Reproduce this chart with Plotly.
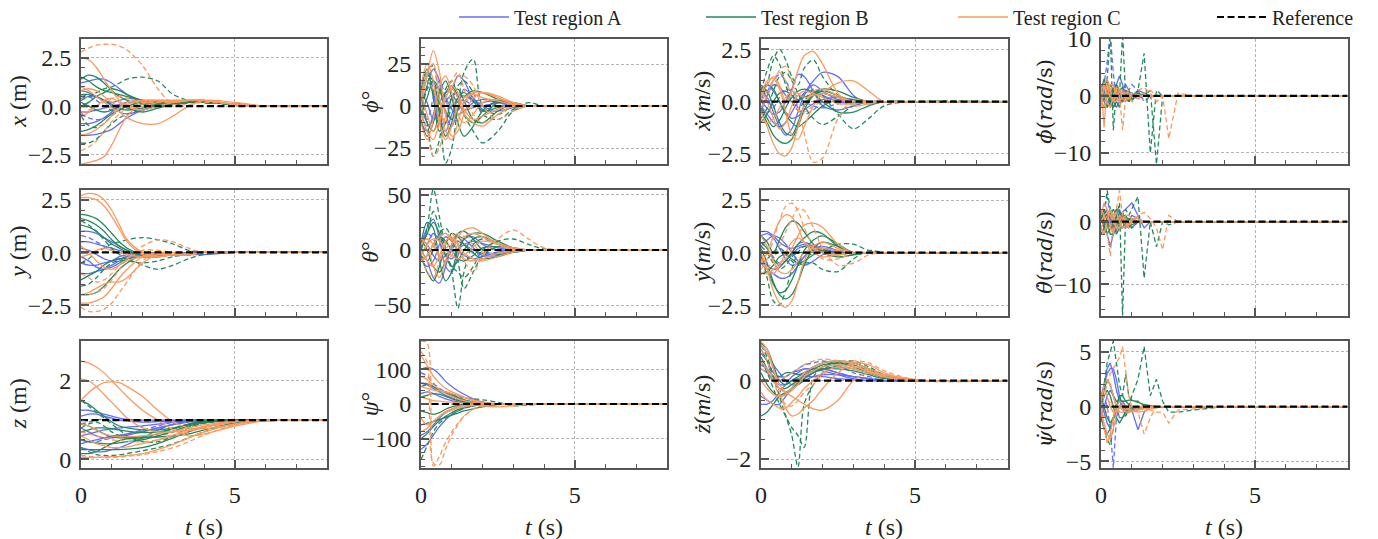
import plotly.graph_objects as go
from plotly.subplots import make_subplots

# ---------------- time grids (s) ----------------
T_POS = [0, 0.25, 0.5, 0.75, 1.0, 1.25, 1.5, 2.0, 2.5, 3.0, 3.5, 4.0, 5.0, 6.0, 8.0]
T_MID = [0, 0.2, 0.4, 0.6, 0.8, 1.0, 1.2, 1.4, 1.7, 2.0, 2.5, 3.0, 3.5, 4.0, 5.0, 8.0]
T_RATE = [0, 0.1, 0.2, 0.3, 0.4, 0.5, 0.6, 0.7, 0.8, 0.9, 1.0, 1.2, 1.4, 1.6, 1.8, 2.0, 2.2, 2.5, 3.0, 4.0, 8.0]
REF_T = [0.0, 8.0]

REGIONS = ["Test region A", "Test region B", "Test region C"]
REF_NAME = "Reference"
REF_LEVELS = [0, 0, 0, 0, 0, 0, 0, 0, 1.0, 0, 0, 0]

# ---------------- x (m) ----------------
x_A_solid = [
    [1.2, 1.3, 1.4, 1.4, 1.2, 0.9, 0.6, 0.2, 0.0, 0.1, 0.2, 0.2, 0.1, 0.0, 0.0],
    [-1.5, -1.5, -1.45, -1.35, -1.2, -0.9, -0.6, -0.2, 0.0, 0.1, 0.2, 0.2, 0.1, 0.0, 0.0],
    [0.8, 0.7, 0.5, 0.3, 0.2, 0.3, 0.4, 0.3, 0.1, 0.1, 0.2, 0.2, 0.1, 0.0, 0.0],
    [-0.3, -0.3, -0.2, -0.1, 0.0, 0.1, 0.2, 0.3, 0.2, 0.2, 0.2, 0.2, 0.1, 0.0, 0.0],
    [0.4, 0.5, 0.5, 0.3, 0.0, -0.3, -0.4, -0.2, 0.0, 0.1, 0.2, 0.2, 0.1, 0.0, 0.0],
    [-0.9, -0.9, -0.8, -0.6, -0.3, 0.0, 0.2, 0.3, 0.2, 0.1, 0.2, 0.2, 0.1, 0.0, 0.0],
]
x_A_dashed = [
    [-0.4, -0.6, -0.7, -0.6, -0.3, 0.0, 0.2, 0.2, 0.1, 0.1, 0.2, 0.2, 0.1, 0.0, 0.0],
    [0.6, 0.5, 0.3, 0.0, -0.2, -0.2, 0.0, 0.2, 0.2, 0.1, 0.2, 0.2, 0.1, 0.0, 0.0],
]
x_B_solid = [
    [1.4, 1.6, 1.5, 1.2, 0.8, 0.5, 0.3, 0.1, 0.0, 0.1, 0.2, 0.2, 0.1, 0.0, 0.0],
    [1.5, 1.3, 1.0, 0.8, 0.7, 0.6, 0.5, 0.3, 0.1, 0.1, 0.2, 0.2, 0.1, 0.0, 0.0],
    [0.0, 0.2, 0.5, 0.7, 0.9, 0.8, 0.6, 0.3, 0.2, 0.2, 0.2, 0.2, 0.1, 0.0, 0.0],
    [-1.3, -1.2, -1.0, -0.7, -0.4, -0.2, 0.0, 0.2, 0.2, 0.1, 0.2, 0.2, 0.1, 0.0, 0.0],
    [0.2, 0.0, -0.2, -0.3, -0.2, 0.0, -0.1, -0.3, -0.1, 0.1, 0.2, 0.2, 0.1, 0.0, 0.0],
    [0.6, 0.6, 0.5, 0.3, 0.1, -0.1, -0.2, -0.1, 0.1, 0.2, 0.2, 0.2, 0.1, 0.0, 0.0],
]
x_B_dashed = [
    [0.3, 0.5, 0.7, 0.9, 1.0, 1.2, 1.4, 1.5, 1.3, 0.6, 0.3, 0.2, 0.1, 0.0, 0.0],
    [-1.9, -1.9, -1.7, -1.3, -0.9, -0.6, -0.4, -0.2, 0.0, 0.1, 0.2, 0.2, 0.1, 0.0, 0.0],
    [-0.5, -1.0, -1.1, -0.9, -0.5, -0.2, 0.0, 0.1, 0.1, 0.1, 0.2, 0.2, 0.1, 0.0, 0.0],
]
x_C_solid = [
    [2.5, 2.4, 2.0, 1.4, 0.8, 0.3, 0.0, -0.2, 0.0, 0.2, 0.3, 0.3, 0.1, 0.0, 0.0],
    [-3.0, -2.9, -2.8, -2.6, -2.0, -1.2, -0.5, 0.1, 0.3, 0.3, 0.3, 0.3, 0.1, 0.0, 0.0],
    [1.0, 0.8, 0.5, 0.2, -0.1, -0.3, -0.6, -0.9, -0.9, -0.5, 0.0, 0.3, 0.2, 0.0, 0.0],
    [-1.5, -1.4, -1.2, -0.9, -0.5, -0.1, 0.2, 0.3, 0.3, 0.2, 0.3, 0.3, 0.1, 0.0, 0.0],
    [0.8, 0.9, 0.8, 0.5, 0.2, 0.0, 0.1, 0.3, 0.3, 0.2, 0.3, 0.3, 0.1, 0.0, 0.0],
    [-0.6, -0.3, 0.0, 0.3, 0.4, 0.2, 0.0, 0.0, 0.2, 0.3, 0.3, 0.3, 0.1, 0.0, 0.0],
]
x_C_dashed = [
    [2.8, 3.0, 3.15, 3.2, 3.2, 3.1, 2.9, 2.1, 0.9, 0.1, 0.1, 0.2, 0.1, 0.0, 0.0],
    [-2.3, -2.1, -1.8, -1.3, -0.8, -0.4, -0.1, 0.2, 0.3, 0.3, 0.3, 0.3, 0.1, 0.0, 0.0],
    [-0.4, -0.2, 0.0, 0.2, 0.4, 0.5, 0.4, 0.2, 0.2, 0.2, 0.3, 0.3, 0.1, 0.0, 0.0],
]

# ---------------- phi (deg) ----------------
phi_A_solid = [
    [0, 12, 22, 15, -5, -12, -2, 10, 5, -2, -3, -1, 0, 0, 0, 0],
    [-5, -12, -8, 2, 8, 10, 18, 15, 4, 0, 2, 1, 0, 0, 0, 0],
    [5, 15, 8, -10, -15, -5, 5, 6, 3, 0, 2, 1, 0, 0, 0, 0],
    [-10, -15, -5, 8, 5, -2, -5, -3, 2, 4, 2, 1, 0, 0, 0, 0],
    [8, 2, -8, -5, 3, 6, 2, -2, -1, 2, 3, 1, 0, 0, 0, 0],
]
phi_A_dashed = [
    [3, 20, 10, -12, -8, 5, 8, 4, 0, -2, 0, 1, 0, 0, 0, 0],
    [-3, -8, 5, 15, 5, -8, -3, 2, 3, 1, 0, 0, 0, 0, 0, 0],
]
phi_B_solid = [
    [5, 18, 15, -5, -18, -10, 5, 8, 3, -3, -1, 0, 0, 0, 0, 0],
    [-8, -18, -10, 8, 15, 5, -10, -18, -12, -3, 3, 2, 0, 0, 0, 0],
    [10, 22, 5, -15, -10, 5, 10, 3, -8, -10, -3, 1, 0, 0, 0, 0],
    [0, -10, -15, -5, 8, 12, 5, -5, -10, -6, 2, 2, 0, 0, 0, 0],
    [-5, 5, 15, 10, -3, -8, -2, 5, 9, 8, 4, 1, 0, 0, 0, 0],
]
phi_B_dashed = [
    [0, 12, 25, 0, -34, -25, 0, 20, 28, 0, -5, 0, 0, 0, 0, 0],
    [5, -10, -30, -20, 10, 15, 5, -5, -15, -22, -15, -3, 0, 0, 0, 0],
    [-5, 10, 15, -2, -10, 0, 12, 15, 8, -5, -8, -2, 2, 0, 0, 0],
]
phi_C_solid = [
    [0, 18, 33, 20, -5, -18, -15, -5, 5, 8, 6, 2, 0, 0, 0, 0],
    [5, 20, 25, 5, -15, -20, -10, 2, 8, 8, 5, 1, 0, 0, 0, 0],
    [-5, -15, -20, -10, 5, 12, 8, -2, -8, -6, -2, 1, 0, 0, 0, 0],
    [8, -5, -15, -8, 5, 10, 5, -5, -10, -12, -5, 0, 0, 0, 0, 0],
    [-10, -20, -8, 12, 18, 8, -5, -10, -5, 2, 4, 2, 0, 0, 0, 0],
    [12, 25, 15, -10, -20, -12, 0, 5, 7, 5, 3, 1, 0, 0, 0, 0],
]
phi_C_dashed = [
    [0, -15, -30, -25, -5, 10, 18, 18, 12, 0, -8, -3, 0, 0, 0, 0],
    [5, 15, 10, 0, 5, 15, 20, 10, -5, -10, -5, 0, 0, 0, 0, 0],
]

# ---------------- x dot (m/s) ----------------
xdot_A_solid = [
    [0.5, 0.2, -0.5, -1.2, -1.6, -1.3, -0.5, 0.3, 0.8, 0.5, 0.1, 0.0, 0.0, 0.0, 0.0, 0.0],
    [-0.5, 0.3, 0.8, 0.7, 0.3, 0.0, 0.0, 0.4, 1.0, 1.4, 1.2, 0.3, -0.1, 0.0, 0.0, 0.0],
    [0.0, -0.3, -0.6, -0.5, 0.0, 0.6, 1.3, 1.2, 0.5, -0.2, -0.4, -0.2, 0.0, 0.0, 0.0, 0.0],
    [0.6, 0.8, 0.5, 0.0, -0.5, -0.8, -0.7, -0.4, -0.1, 0.1, 0.2, 0.1, 0.0, 0.0, 0.0, 0.0],
    [-0.3, -0.6, -1.0, -1.2, -1.0, -0.5, 0.0, 0.4, 0.5, 0.3, 0.0, -0.1, 0.0, 0.0, 0.0, 0.0],
]
xdot_A_dashed = [
    [0.2, 0.5, 1.0, 1.3, 1.0, 0.4, -0.3, -0.6, -0.4, 0.0, 0.1, 0.0, 0.0, 0.0, 0.0, 0.0],
    [-0.2, -0.5, -0.3, 0.2, 0.6, 0.5, 0.2, 0.0, -0.2, -0.3, -0.1, 0.0, 0.0, 0.0, 0.0, 0.0],
]
xdot_B_solid = [
    [-0.5, -1.0, -1.6, -1.9, -2.0, -1.8, -1.2, -0.4, 0.3, 0.5, 0.3, 0.0, 0.0, 0.0, 0.0, 0.0],
    [0.8, 0.5, -0.2, -1.0, -1.5, -1.6, -1.0, -0.2, 0.3, 0.4, 0.2, 0.0, 0.0, 0.0, 0.0, 0.0],
    [-1.0, -0.6, 0.0, 0.4, 0.5, 0.3, 0.1, 0.2, 0.4, 0.6, 0.5, 0.2, 0.0, 0.0, 0.0, 0.0],
    [0.3, 0.8, 0.6, 0.0, -0.6, -1.0, -1.2, -1.0, -0.6, -0.2, 0.1, 0.1, 0.0, 0.0, 0.0, 0.0],
    [-0.3, -0.8, -1.2, -0.9, -0.3, 0.2, 0.5, 0.6, 0.4, 0.0, -0.5, -0.5, -0.2, 0.0, 0.0, 0.0],
]
xdot_B_dashed = [
    [0.0, 0.8, 2.0, 2.5, 2.0, 1.2, 0.8, 1.6, 2.0, 1.2, 0.3, 0.0, 0.0, 0.0, 0.0, 0.0],
    [0.5, 1.5, 2.2, 1.8, 0.8, 0.0, -0.4, 0.0, 0.6, 0.3, -0.6, -1.3, -0.8, -0.2, 0.0, 0.0],
    [-0.8, -0.3, 0.5, 1.2, 1.4, 1.0, 0.4, -0.2, -0.8, -1.1, -0.7, -0.2, 0.0, 0.0, 0.0, 0.0],
]
xdot_C_solid = [
    [0.2, 0.8, 1.2, 0.8, 0.0, 0.5, 1.5, 2.2, 2.4, 1.8, 0.4, -0.2, -0.1, 0.0, 0.0, 0.0],
    [-0.5, -1.2, -2.0, -2.5, -2.6, -2.2, -1.2, -0.2, 0.5, 0.6, 0.3, 0.0, 0.0, 0.0, 0.0, 0.0],
    [0.3, 1.0, 1.1, 0.6, -0.5, -1.6, -1.8, -1.2, -0.2, 0.4, 0.9, 1.0, 0.5, 0.0, 0.0, 0.0],
    [-0.8, -1.0, -0.8, -0.3, 0.2, 0.5, 0.4, 0.2, 0.3, 0.4, 0.2, 0.0, 0.0, 0.0, 0.0, 0.0],
    [0.5, 0.0, -0.8, -1.3, -1.0, -0.2, 0.3, 0.5, 0.4, 0.2, -0.1, -0.1, 0.0, 0.0, 0.0, 0.0],
]
xdot_C_dashed = [
    [0.0, 0.5, 1.0, 1.5, 1.7, 1.0, -0.2, -1.5, -2.9, -2.7, -0.8, 0.1, 0.0, 0.0, 0.0, 0.0],
    [-0.3, 0.2, 1.0, 1.4, 1.0, 0.2, -0.4, -0.5, -0.2, 0.0, 0.1, 0.0, 0.0, 0.0, 0.0, 0.0],
]

# ---------------- phi dot (rad/s) ----------------
phidot_A_solid = [
    [0, 2, 3, 1, -1, 2, 3.5, 2, 0, -1, 0, 1, 0.5, 0, 0, 0, 0, 0, 0, 0, 0],
    [1, -1, -2, 0, 1.5, 0.5, -1, 0, 1, 0.5, -0.5, 0, 0, 0, 0, 0, 0, 0, 0, 0, 0],
    [-1, 1, 2, 1, -1, -2, -1, 1, 2, 1, 0, -0.5, 0, 0, 0, 0, 0, 0, 0, 0, 0],
    [2, 1, -1, -1.5, 0, 1, 0.5, -0.5, 0, 0.5, 0, 0, 0, 0, 0, 0, 0, 0, 0, 0, 0],
]
phidot_A_dashed = [
    [0, 2, 6, 11, 4, -1, 0, 1, 0, -0.5, 0, 0, 0, 0, 0, 0, 0, 0, 0, 0, 0],
    [-1, 1, 0, -1, 1, 2, 0, -1, 0, 1, 2, 1, -1, 0, 0, 0, 0, 0, 0, 0, 0],
]
phidot_B_solid = [
    [1, 3, 1, -2, -1, 2, 1, -1, 0, 1, 0, 0, 0, 0, 0, 0, 0, 0, 0, 0, 0],
    [-1, -2, 0, 2, 1, -1, -2, 0, 1, 0, -0.5, 0, 0, 0, 0, 0, 0, 0, 0, 0, 0],
    [2, 0, -2, -1, 1, 2, 0, -1, -0.5, 0, 0.5, 0, 0, 0, 0, 0, 0, 0, 0, 0, 0],
    [0, 2, 2.5, 0, -2, -1, 1, 1.5, 0, -1, 0, 0.5, 0, 0, 0, 0, 0, 0, 0, 0, 0],
]
phidot_B_dashed = [
    [0, 1, 3, 11, -6, 1, 0, 11, 0, -1, 0, 0, 0, 0, 0, 0, 0, 0, 0, 0, 0],
    [0, -1, 1, 0, -1, 0, 1, -1, 0, 1, -1, 1, 7.5, -10, 1, 0, 0, 0, 0, 0, 0],
    [0, 1, 0, -1, 0, 1, 0, -1, 1, 0, -1, 1, 0, 1, -12, 0, 0, 0, 0, 0, 0],
]
phidot_C_solid = [
    [2, -5.5, 2, 1, -1, 0, 1, 0, -0.5, 0, 0, 0, 0, 0, 0, 0, 0, 0, 0, 0, 0],
    [-2, 2, 3, 1, -1, -1, 1, 1, 0, -0.5, 0, 0, 0, 0, 0, 0, 0, 0, 0, 0, 0],
    [1, 2, -1, -2, 0, 1.5, 1, -0.5, -1, 0, 0.5, 0, 0, 0, 0, 0, 0, 0, 0, 0, 0],
    [-1, -2, 0, 2, 2, 0, -1, 0, 0.5, 0.5, 0, 0, 0, 0, 0, 0, 0, 0, 0, 0, 0],
]
phidot_C_dashed = [
    [0, 1, 2, 0, -1, 1, 0, -6, 0, 1, 0, -0.5, 0.5, 1, 0, 0, 0, 0, 0, 0, 0],
    [1, 0, -1, 1, 2, 0, -1, 0, 1, 0, -1, 1, 1.5, 0.5, -1, 0, -7.5, 0.5, 0, 0, 0],
]

# ---------------- y (m) ----------------
y_A_solid = [
    [1.0, 1.0, 0.9, 0.7, 0.5, 0.3, 0.1, -0.1, -0.1, -0.1, -0.1, -0.1, 0.0, 0.0, 0.0],
    [0.5, 0.5, 0.4, 0.3, 0.2, 0.1, 0.0, -0.1, -0.1, -0.1, -0.1, 0.0, 0.0, 0.0, 0.0],
    [-0.5, -0.6, -0.6, -0.5, -0.4, -0.2, -0.1, 0.0, -0.1, -0.1, -0.1, 0.0, 0.0, 0.0, 0.0],
    [-0.2, -0.4, -0.7, -0.8, -0.7, -0.5, -0.3, -0.1, -0.1, -0.1, -0.1, 0.0, 0.0, 0.0, 0.0],
    [0.2, 0.1, -0.1, -0.3, -0.4, -0.3, -0.2, -0.1, -0.1, -0.1, 0.0, 0.0, 0.0, 0.0, 0.0],
    [-1.0, -1.0, -0.9, -0.8, -0.6, -0.4, -0.2, 0.0, -0.1, -0.1, -0.1, 0.0, 0.0, 0.0, 0.0],
]
y_A_dashed = [
    [0.8, 0.7, 0.5, 0.3, 0.1, 0.0, -0.1, -0.1, -0.1, -0.1, 0.0, 0.0, 0.0, 0.0, 0.0],
]
y_B_solid = [
    [1.8, 1.75, 1.6, 1.3, 0.9, 0.5, 0.2, -0.1, -0.2, -0.1, -0.1, 0.0, 0.0, 0.0, 0.0],
    [1.6, 1.5, 1.3, 1.0, 0.6, 0.3, 0.1, -0.2, -0.2, -0.1, -0.1, 0.0, 0.0, 0.0, 0.0],
    [1.3, 1.2, 1.0, 0.7, 0.4, 0.2, 0.0, -0.2, -0.2, -0.1, -0.1, 0.0, 0.0, 0.0, 0.0],
    [-2.0, -2.0, -1.9, -1.6, -1.2, -0.8, -0.5, -0.1, 0.0, -0.1, -0.1, 0.0, 0.0, 0.0, 0.0],
    [-1.3, -1.1, -0.9, -0.6, -0.4, -0.3, -0.3, -0.2, -0.1, -0.1, -0.1, 0.0, 0.0, 0.0, 0.0],
]
y_B_dashed = [
    [-0.5, -0.3, 0.0, 0.2, 0.4, 0.5, 0.6, 0.7, 0.6, 0.4, 0.1, 0.0, 0.0, 0.0, 0.0],
    [1.5, 1.3, 1.0, 0.6, 0.2, -0.1, -0.3, -0.6, -0.8, -0.6, -0.3, -0.1, 0.0, 0.0, 0.0],
    [-1.6, -1.5, -1.2, -0.8, -0.5, -0.4, -0.4, -0.5, -0.4, -0.2, -0.1, 0.0, 0.0, 0.0, 0.0],
]
y_C_solid = [
    [2.7, 2.8, 2.75, 2.5, 2.0, 1.3, 0.6, 0.0, -0.2, -0.1, -0.1, 0.0, 0.0, 0.0, 0.0],
    [2.6, 2.6, 2.5, 2.2, 1.7, 1.1, 0.5, -0.1, -0.2, -0.1, -0.1, 0.0, 0.0, 0.0, 0.0],
    [-2.4, -2.4, -2.3, -2.1, -1.7, -1.2, -0.8, -0.2, 0.0, -0.1, -0.1, 0.0, 0.0, 0.0, 0.0],
    [-2.0, -1.9, -1.7, -1.5, -1.4, -1.4, -1.2, -0.5, -0.1, -0.1, -0.1, 0.0, 0.0, 0.0, 0.0],
    [0.3, 0.0, -0.4, -0.7, -0.8, -0.6, -0.4, -0.2, -0.1, -0.1, -0.1, 0.0, 0.0, 0.0, 0.0],
    [-0.2, -0.1, 0.1, 0.2, 0.1, 0.0, -0.1, -0.2, -0.2, -0.1, -0.1, 0.0, 0.0, 0.0, 0.0],
]
y_C_dashed = [
    [-2.6, -2.8, -2.8, -2.7, -2.4, -1.9, -1.4, -0.4, 0.0, -0.1, -0.1, 0.0, 0.0, 0.0, 0.0],
    [-2.0, -2.0, -1.9, -1.7, -1.3, -0.8, -0.3, 0.3, 0.6, 0.5, 0.2, 0.0, 0.0, 0.0, 0.0],
    [-1.0, -1.2, -1.4, -1.3, -1.0, -0.6, -0.3, 0.1, 0.1, 0.0, -0.1, 0.0, 0.0, 0.0, 0.0],
]

# ---------------- theta (deg) ----------------
theta_A_solid = [
    [5, 20, 28, 10, -15, -20, -5, 10, 12, 5, 0, -2, 0, 0, 0, 0],
    [0, -10, -25, -30, -15, 5, 12, 10, 2, -5, -5, -2, 0, 0, 0, 0],
    [-5, 5, 15, 8, -5, -8, 0, 5, 8, 6, 2, 0, 0, 0, 0, 0],
    [10, 5, -5, -10, -5, 3, 8, 5, 0, -3, -3, -1, 0, 0, 0, 0],
    [-8, -15, -10, 5, 12, 8, 0, -5, -8, -6, -2, 0, 0, 0, 0, 0],
]
theta_A_dashed = [
    [3, 15, 10, -5, -10, 0, 8, 5, -2, -4, -2, 0, 0, 0, 0, 0],
]
theta_B_solid = [
    [5, 25, 20, -10, -28, -20, 0, 10, 15, 15, 8, 2, 0, 0, 0, 0],
    [-5, -20, -28, -15, 5, 15, 12, 5, -3, -8, -6, -2, 0, 0, 0, 0],
    [0, 15, 25, 15, -5, -15, -10, 0, 10, 12, 6, 1, 0, 0, 0, 0],
    [10, 0, -15, -20, -10, 5, 15, 17, 10, 0, -4, -2, 0, 0, 0, 0],
    [-10, -5, 5, 12, 8, 0, -8, -10, -5, 2, 3, 1, 0, 0, 0, 0],
]
theta_B_dashed = [
    [0, 20, 55, 30, 0, -20, -53, -20, 5, 10, 5, 0, 0, 0, 0, 0],
    [5, 15, 35, 20, 0, -15, -20, -25, -15, 0, 8, 10, 5, 1, 0, 0],
    [-5, -10, 0, 15, 20, 10, -10, -35, -20, -5, 3, 2, 0, 0, 0, 0],
]
theta_C_solid = [
    [10, 5, -15, -25, -10, 5, 12, 18, 20, 15, 5, 0, 0, 0, 0, 0],
    [-10, -5, 5, 12, 15, 10, 0, -8, -10, -8, -3, 0, 0, 0, 0, 0],
    [5, 10, 5, -5, -10, -5, 5, 12, 15, 12, 5, 1, 0, 0, 0, 0],
    [0, -10, -15, -5, 8, 12, 5, -3, -8, -10, -6, -2, 0, 0, 0, 0],
    [-5, 5, 10, 8, 0, -5, -8, -5, 3, 8, 6, 2, 0, 0, 0, 0],
]
theta_C_dashed = [
    [0, -20, -25, -10, 5, 15, 5, -10, -20, -5, 10, 18, 10, 2, 0, 0],
    [5, 10, 3, -5, 0, 10, 15, 12, 5, -2, -3, -1, 0, 0, 0, 0],
]

# ---------------- y dot (m/s) ----------------
ydot_A_solid = [
    [1.0, 1.0, 0.8, 0.5, 0.3, 0.2, 0.3, 0.4, 0.3, 0.1, -0.1, 0.0, 0.0, 0.0, 0.0, 0.0],
    [0.8, 0.9, 0.7, 0.2, -0.3, -0.6, -0.5, -0.2, 0.1, 0.2, 0.1, 0.0, 0.0, 0.0, 0.0, 0.0],
    [-0.5, -0.8, -1.0, -1.2, -1.2, -1.0, -0.6, -0.2, 0.2, 0.3, 0.1, 0.0, 0.0, 0.0, 0.0, 0.0],
    [0.3, 0.6, 0.8, 0.7, 0.4, 0.0, -0.4, -0.6, -0.4, -0.1, 0.1, 0.0, 0.0, 0.0, 0.0, 0.0],
    [-0.3, -0.6, -0.8, -0.7, -0.4, -0.1, 0.2, 0.3, 0.3, 0.2, 0.0, 0.0, 0.0, 0.0, 0.0, 0.0],
]
ydot_A_dashed = [
    [0.5, 0.2, -0.2, -0.5, -0.4, 0.0, 0.4, 0.5, 0.3, 0.1, 0.0, 0.0, 0.0, 0.0, 0.0, 0.0],
]
ydot_B_solid = [
    [0.2, -0.5, -1.4, -2.0, -2.2, -2.0, -1.4, -0.6, 0.2, 0.5, 0.3, 0.0, 0.0, 0.0, 0.0, 0.0],
    [0.8, 0.5, 0.0, 0.6, 1.2, 1.5, 1.4, 1.0, 0.4, 0.0, -0.2, -0.1, 0.0, 0.0, 0.0, 0.0],
    [-0.2, -0.8, -1.5, -1.9, -1.8, -1.3, -0.6, 0.1, 0.6, 0.8, 0.4, 0.0, 0.0, 0.0, 0.0, 0.0],
    [0.5, 0.2, -0.3, -0.6, -0.4, 0.0, 0.4, 0.7, 1.0, 0.9, 0.3, 0.0, 0.0, 0.0, 0.0, 0.0],
    [-1.0, -0.9, -0.6, -0.2, -0.1, -0.3, -0.5, -0.4, -0.1, 0.1, 0.0, 0.0, 0.0, 0.0, 0.0, 0.0],
]
ydot_B_dashed = [
    [0.0, -1.2, -2.3, -2.5, -1.8, -0.8, 0.0, 0.3, 0.2, 0.0, -0.2, -0.1, 0.0, 0.0, 0.0, 0.0],
    [-0.5, -0.3, 0.0, 0.2, 0.0, -0.4, -0.6, -0.5, -0.5, -0.8, -0.9, -0.3, 0.1, 0.0, 0.0, 0.0],
    [0.3, 0.0, -0.5, -0.8, -0.6, -0.2, 0.0, 0.0, -0.1, 0.1, 0.4, 0.4, 0.1, 0.0, 0.0, 0.0],
]
ydot_C_solid = [
    [0.0, -0.8, -1.8, -2.4, -2.6, -2.3, -1.4, -0.4, 0.3, 0.5, 0.2, 0.0, 0.0, 0.0, 0.0, 0.0],
    [-0.5, 0.0, 0.8, 1.5, 1.8, 1.7, 1.2, 0.5, 0.0, -0.2, -0.1, 0.0, 0.0, 0.0, 0.0, 0.0],
    [-1.0, -1.0, -0.8, -0.5, -0.3, 0.2, 0.8, 1.3, 1.4, 1.2, 0.4, 0.0, 0.0, 0.0, 0.0, 0.0],
    [0.8, 0.3, -0.4, -0.9, -1.0, -0.8, -0.4, 0.0, 0.2, 0.2, 0.1, 0.0, 0.0, 0.0, 0.0, 0.0],
    [-0.3, -0.8, -1.0, -0.6, 0.0, 0.5, 0.7, 0.5, 0.2, 0.0, -0.1, 0.0, 0.0, 0.0, 0.0, 0.0],
]
ydot_C_dashed = [
    [-0.8, -0.3, 0.6, 1.5, 2.2, 2.35, 2.0, 1.2, 0.3, -0.3, -0.3, 0.0, 0.0, 0.0, 0.0, 0.0],
    [-1.0, -0.8, -0.3, 0.3, 1.0, 1.6, 2.1, 2.0, 1.2, 0.2, -0.6, -0.5, -0.1, 0.0, 0.0, 0.0],
]

# ---------------- theta dot (rad/s) ----------------
thetadot_A_solid = [
    [0, 1, 2, 0, -2, -1, 1, 1.5, 2, 2.5, 3, 1, -1, 0, 0, 0, 0, 0, 0, 0, 0],
    [1, -1, -2, -4, -2, 0, 1, 0, -1, 0, 0.5, 0, 0, 0, 0, 0, 0, 0, 0, 0, 0],
    [-1, 0, 1.5, 1, -1, -1.5, 0, 1, 0.5, -0.5, -1, 0, 0, 0, 0, 0, 0, 0, 0, 0, 0],
    [0.5, 2, 1, -1, -1, 1, 2, 0, -1, 0, 1, 0.5, 0, 0, 0, 0, 0, 0, 0, 0, 0],
]
thetadot_A_dashed = [
    [0, 2, 4, 1, -2, -1, 1, 0, -0.5, 0, 0.5, 0, 0, 0, 0, 0, 0, 0, 0, 0, 0],
]
thetadot_B_solid = [
    [2, 0, -2, -1, 1, 2, 0, -1, 0, 0.5, 0, 0, 0, 0, 0, 0, 0, 0, 0, 0, 0],
    [-2, -1, 1, 2, 0, -2, -1, 1, 1, 0, -0.5, 0, 0, 0, 0, 0, 0, 0, 0, 0, 0],
    [1, 2, 0, -2, -2, 0, 1.5, 1, -0.5, -1, 0, 0, 0, 0, 0, 0, 0, 0, 0, 0, 0],
    [-1, -2, -1, 1, 2, 1, -1, -1, 0, 0.5, 0.5, 0, 0, 0, 0, 0, 0, 0, 0, 0, 0],
]
thetadot_B_dashed = [
    [0, 1, 5, 2, -1, 1, 3, -15, 1, 0, -1, 0, 0, 0, 0, 0, 0, 0, 0, 0, 0],
    [1, -1, 0, 2, 1, -1, 0, 1, 2, 1, 2, 4, -9, 0, -4, 0, -0.5, 0, 0, 0, 0],
]
thetadot_C_solid = [
    [1, 3, 2, -1, -2, 0, 1, 0.5, 0, -0.5, 0, 0, 0, 0, 0, 0, 0, 0, 0, 0, 0],
    [-1, -2, 0, 2, 1, -1, -1, 0, 0.5, 0, 0, 0, 0, 0, 0, 0, 0, 0, 0, 0, 0],
    [2, 1, -1, -1, 1, 1.5, 0, -1, -0.5, 0, 0.5, 0.5, 0, 0, 0, 0, 0, 0, 0, 0, 0],
    [0, 1, 1.5, 1, 0, -1, -1, 0, 1, 1, 0.5, 0, 0, 0, 0, 0, 0, 0, 0, 0, 0],
]
thetadot_C_dashed = [
    [0, 1, -2, -5.5, 0, 2, 5, 1, -1, 0, 0, 0, 0, 0, 0, 0, 0, 0, 0, 0, 0],
    [-1, 0, 1, 2, 0, -1, 0, 1, 0, -1, 0, 1, 1.5, 0.5, -1, -4.5, 1, 0, 0, 0, 0],
]

# ---------------- z (m) ----------------
z_A_solid = [
    [1.25, 1.25, 1.2, 1.15, 1.1, 1.05, 1.02, 1.0, 1.0, 1.0, 1.0, 1.0, 1.0, 1.0, 1.0],
    [1.1, 1.15, 1.15, 1.1, 1.05, 1.0, 0.98, 0.95, 0.96, 0.98, 1.0, 1.0, 1.0, 1.0, 1.0],
    [0.6, 0.65, 0.7, 0.75, 0.78, 0.8, 0.82, 0.85, 0.9, 0.95, 0.98, 1.0, 1.0, 1.0, 1.0],
    [0.4, 0.45, 0.5, 0.55, 0.6, 0.62, 0.65, 0.72, 0.8, 0.88, 0.95, 0.98, 1.0, 1.0, 1.0],
    [0.8, 0.7, 0.6, 0.55, 0.55, 0.58, 0.62, 0.7, 0.8, 0.9, 0.96, 0.99, 1.0, 1.0, 1.0],
    [0.3, 0.25, 0.2, 0.2, 0.25, 0.3, 0.38, 0.55, 0.75, 0.9, 0.97, 1.0, 1.0, 1.0, 1.0],
]
z_A_dashed = [
    [0.5, 0.45, 0.45, 0.5, 0.55, 0.6, 0.65, 0.75, 0.85, 0.95, 1.0, 1.0, 1.0, 1.0, 1.0],
    [0.9, 0.95, 1.0, 1.02, 1.02, 1.0, 0.98, 0.97, 0.98, 1.0, 1.0, 1.0, 1.0, 1.0, 1.0],
]
z_B_solid = [
    [1.5, 1.4, 1.25, 1.1, 0.95, 0.85, 0.8, 0.75, 0.75, 0.8, 0.9, 0.97, 1.0, 1.0, 1.0],
    [0.7, 0.75, 0.8, 0.8, 0.78, 0.75, 0.72, 0.68, 0.7, 0.78, 0.88, 0.95, 1.0, 1.0, 1.0],
    [0.25, 0.25, 0.25, 0.25, 0.25, 0.25, 0.26, 0.3, 0.4, 0.55, 0.7, 0.82, 0.96, 1.0, 1.0],
    [0.5, 0.45, 0.42, 0.4, 0.4, 0.42, 0.45, 0.5, 0.6, 0.72, 0.85, 0.93, 0.99, 1.0, 1.0],
    [0.9, 0.85, 0.75, 0.65, 0.58, 0.55, 0.55, 0.58, 0.65, 0.78, 0.9, 0.97, 1.0, 1.0, 1.0],
    [0.15, 0.15, 0.2, 0.3, 0.4, 0.48, 0.52, 0.55, 0.57, 0.6, 0.65, 0.75, 0.93, 0.99, 1.0],
]
z_B_dashed = [
    [1.5, 1.35, 1.2, 1.05, 0.9, 0.75, 0.6, 0.45, 0.45, 0.6, 0.8, 0.93, 0.99, 1.0, 1.0],
    [0.3, 0.2, 0.12, 0.1, 0.1, 0.12, 0.15, 0.22, 0.3, 0.4, 0.55, 0.7, 0.92, 0.99, 1.0],
    [0.8, 0.9, 0.95, 0.85, 0.7, 0.6, 0.55, 0.55, 0.6, 0.7, 0.82, 0.92, 0.99, 1.0, 1.0],
]
z_C_solid = [
    [2.5, 2.45, 2.35, 2.2, 2.0, 1.8, 1.6, 1.25, 1.0, 0.75, 0.6, 0.65, 0.85, 0.98, 1.0],
    [1.5, 1.7, 1.85, 1.95, 1.97, 1.95, 1.85, 1.6, 1.25, 0.95, 0.8, 0.78, 0.9, 0.99, 1.0],
    [2.05, 2.0, 1.85, 1.65, 1.45, 1.25, 1.05, 0.8, 0.7, 0.7, 0.75, 0.82, 0.95, 1.0, 1.0],
    [0.05, 0.05, 0.05, 0.06, 0.07, 0.08, 0.1, 0.15, 0.25, 0.38, 0.55, 0.7, 0.9, 0.99, 1.0],
    [0.9, 0.85, 0.75, 0.65, 0.6, 0.58, 0.58, 0.6, 0.65, 0.72, 0.8, 0.88, 0.97, 1.0, 1.0],
    [0.6, 0.5, 0.4, 0.35, 0.3, 0.3, 0.32, 0.4, 0.5, 0.62, 0.74, 0.84, 0.96, 1.0, 1.0],
]
z_C_dashed = [
    [0.1, 0.08, 0.06, 0.05, 0.05, 0.06, 0.08, 0.12, 0.2, 0.3, 0.45, 0.62, 0.88, 0.98, 1.0],
    [0.7, 0.65, 0.6, 0.55, 0.5, 0.48, 0.46, 0.45, 0.5, 0.58, 0.7, 0.82, 0.96, 1.0, 1.0],
]

# ---------------- psi (deg) ----------------
psi_A_solid = [
    [100, 105, 100, 85, 65, 50, 38, 28, 15, 6, 0, 0, 0, 0, 0, 0],
    [-130, -115, -90, -65, -45, -30, -20, -12, -5, -2, 0, 0, 0, 0, 0, 0],
    [-90, -80, -60, -40, -25, -15, -8, -4, -1, 0, 0, 0, 0, 0, 0, 0],
    [60, 55, 45, 35, 25, 18, 12, 8, 4, 1, 0, 0, 0, 0, 0, 0],
    [30, 35, 30, 22, 15, 10, 6, 3, 1, 0, 0, 0, 0, 0, 0, 0],
]
psi_A_dashed = [
    [90, 80, 60, 45, 35, 28, 20, 12, 5, 1, 0, 0, 0, 0, 0, 0],
]
psi_B_solid = [
    [-60, -55, -50, -45, -38, -32, -26, -20, -14, -8, -2, 0, 0, 0, 0, 0],
    [60, 58, 50, 40, 32, 25, 18, 12, 6, 2, 0, 0, 0, 0, 0, 0],
    [20, 25, 30, 28, 22, 15, 10, 6, 3, 1, 0, 0, 0, 0, 0, 0],
    [-20, -25, -30, -25, -15, -8, -4, -2, 0, 0, 0, 0, 0, 0, 0, 0],
    [-100, -85, -65, -48, -35, -25, -16, -10, -5, -2, 0, 0, 0, 0, 0, 0],
]
psi_B_dashed = [
    [-160, -120, -80, -55, -40, -30, -20, -12, -5, -1, 0, 0, 0, 0, 0, 0],
    [50, 55, 50, 42, 35, 28, 22, 18, 15, 12, 5, -5, -3, 0, 0, 0],
]
psi_C_solid = [
    [140, 110, 80, 60, 45, 35, 28, 20, 12, 5, 0, 0, 0, 0, 0, 0],
    [50, 45, 40, 38, 35, 30, 25, 18, 10, 4, 0, 0, 0, 0, 0, 0],
    [-40, -60, -50, -35, -22, -14, -8, -4, -1, 0, 0, 0, 0, 0, 0, 0],
    [80, 70, 55, 42, 30, 22, 15, 10, 5, 2, 0, 0, 0, 0, 0, 0],
    [20, 15, 10, 8, 6, 5, 4, 2, 0, -5, -8, -5, -2, 0, 0, 0],
    [-80, -70, -50, -35, -25, -18, -12, -8, -4, -1, 0, 0, 0, 0, 0, 0],
]
psi_C_dashed = [
    [181, 175, -178, -150, -110, -80, -55, -35, -15, -5, 0, 0, 0, 0, 0, 0],
    [150, 120, -170, -175, -130, -90, -60, -35, -15, -4, 0, 0, 0, 0, 0, 0],
]

# ---------------- z dot (m/s) ----------------
zdot_A_solid = [
    [-0.6, -0.6, -0.5, -0.3, -0.1, 0.1, 0.2, 0.3, 0.3, 0.3, 0.2, 0.1, 0.05, 0.0, 0.0, 0.0],
    [0.7, 0.5, 0.2, 0.1, 0.1, 0.2, 0.25, 0.3, 0.3, 0.25, 0.15, 0.05, 0.0, 0.0, 0.0, 0.0],
    [-0.4, -0.5, -0.6, -0.6, -0.4, -0.2, 0.0, 0.15, 0.25, 0.3, 0.2, 0.1, 0.05, 0.0, 0.0, 0.0],
    [0.9, 0.7, 0.4, 0.2, 0.0, -0.1, -0.1, 0.0, 0.1, 0.15, 0.15, 0.1, 0.05, 0.0, 0.0, 0.0],
    [0.3, 0.2, 0.0, -0.1, -0.1, 0.0, 0.05, 0.1, 0.1, 0.1, 0.05, 0.02, 0.0, 0.0, 0.0, 0.0],
]
zdot_A_dashed = [
    [0.4, 0.3, 0.1, 0.0, 0.1, 0.2, 0.3, 0.4, 0.45, 0.5, 0.4, 0.2, 0.1, 0.0, 0.0, 0.0],
]
zdot_B_solid = [
    [0.95, 0.8, 0.4, 0.0, -0.1, 0.0, 0.1, 0.2, 0.35, 0.45, 0.5, 0.45, 0.3, 0.15, 0.02, 0.0],
    [-0.9, -0.8, -0.6, -0.4, -0.3, -0.2, -0.1, 0.05, 0.2, 0.35, 0.45, 0.4, 0.25, 0.1, 0.0, 0.0],
    [0.8, 0.5, 0.1, 0.1, 0.2, 0.2, 0.15, 0.2, 0.3, 0.4, 0.45, 0.35, 0.2, 0.08, 0.0, 0.0],
    [0.6, 0.3, 0.0, -0.2, -0.2, -0.1, 0.0, 0.1, 0.2, 0.3, 0.35, 0.3, 0.2, 0.1, 0.0, 0.0],
    [0.2, -0.1, -0.3, -0.4, -0.35, -0.2, -0.05, 0.1, 0.2, 0.3, 0.3, 0.25, 0.15, 0.05, 0.0, 0.0],
]
zdot_B_dashed = [
    [0.9, 0.6, 0.1, -0.4, -0.9, -1.4, -2.2, -0.6, -0.1, 0.2, 0.4, 0.45, 0.3, 0.1, 0.0, 0.0],
    [0.5, 0.2, -0.2, -0.6, -0.9, -1.2, -1.4, -1.7, 0.1, 0.3, 0.45, 0.5, 0.35, 0.15, 0.0, 0.0],
]
zdot_C_solid = [
    [1.0, 0.8, 0.3, -0.3, -0.7, -0.9, -0.85, -0.7, -0.5, -0.2, 0.2, 0.45, 0.4, 0.2, 0.02, 0.0],
    [0.9, 0.7, 0.3, -0.1, -0.3, -0.4, -0.5, -0.6, -0.72, -0.75, -0.5, 0.0, 0.2, 0.15, 0.02, 0.0],
    [-0.3, -0.5, -0.6, -0.7, -0.7, -0.55, -0.4, -0.2, 0.0, 0.2, 0.35, 0.3, 0.2, 0.1, 0.0, 0.0],
    [0.5, 0.3, 0.0, -0.2, -0.3, -0.2, 0.0, 0.2, 0.35, 0.45, 0.5, 0.45, 0.3, 0.15, 0.02, 0.0],
    [0.0, -0.2, -0.35, -0.4, -0.35, -0.25, -0.1, 0.1, 0.25, 0.35, 0.4, 0.35, 0.25, 0.1, 0.0, 0.0],
]
zdot_C_dashed = [
    [0.8, 0.5, 0.0, -0.4, -0.6, -0.65, -0.5, -0.3, -0.1, 0.15, 0.4, 0.5, 0.45, 0.25, 0.03, 0.0],
    [0.3, 0.2, 0.1, 0.05, 0.1, 0.2, 0.3, 0.4, 0.5, 0.55, 0.5, 0.4, 0.25, 0.1, 0.0, 0.0],
]

# ---------------- psi dot (rad/s) ----------------
psidot_A_solid = [
    [0, 2, 3.5, 4, 3, 1.5, 0.5, 0, -0.5, -0.3, 0, 0, 0, 0, 0, 0, 0, 0, 0, 0, 0],
    [1, 2, 3, 3.5, 3.5, 2.5, 1, 0, -0.5, -0.5, -0.3, -2.1, -0.5, 0, 0, 0, 0, 0, 0, 0, 0],
    [-1, 0, 1, 1.5, 1, 0, -1, -1, -0.5, 0, 0, 0, 0, 0, 0, 0, 0, 0, 0, 0, 0],
    [0.5, -0.5, -1.5, -2, -1, 0, 0.5, 0.5, 0, -0.5, -0.3, 0, 0, 0, 0, 0, 0, 0, 0, 0, 0],
]
psidot_A_dashed = [
    [0, 1, 0, -2, -5.6, -1, 0, 0.5, 0, 0, 0, 0, 0, 0, 0, 0, 0, 0, 0, 0, 0],
]
psidot_B_solid = [
    [0.5, 1.5, 2.5, 2, 1, 0.5, 0.5, 0.5, 0.5, 0.6, 0.6, 0.4, 0.2, 0.1, 0, 0, 0, 0, 0, 0, 0],
    [-1, -2, -2.5, -2, -1, -0.3, 0, 0, -0.2, -0.3, -0.3, -0.2, -0.1, 0, 0, 0, 0, 0, 0, 0, 0],
    [0, 1, 1.5, 1, 0, -1, -1.5, -1, -0.5, -0.3, -0.2, 0, 0, 0, 0, 0, 0, 0, 0, 0, 0],
    [1, 0, -1, -1.5, -1, 0, 1, 1, 0.5, 0.2, 0, 0, 0, 0, 0, 0, 0, 0, 0, 0, 0],
]
psidot_B_dashed = [
    [0, 2, 4, 5, 6, 4, 2, 1, 3, 1, 0.5, 0.5, 0, 0, 0, 0, 0, 0, 0, 0, 0],
    [-1, -2, -3, -3.5, -2, 0, 1, 0, -1, 0, 1, 2.5, 5.5, 1, 2.5, 0.5, -0.5, -0.5, -0.3, 0, 0],
]
psidot_C_solid = [
    [0, -2, -3.3, -2.5, -1, 0, 0.5, 0.3, 0, -0.3, -0.5, -0.3, 0, 0, 0, 0, 0, 0, 0, 0, 0],
    [0.5, 2, 2.5, 2, 1, 0, -0.5, -0.5, -0.3, 0, 0, 0, 0, 0, 0, 0, 0, 0, 0, 0, 0],
    [-0.5, -1.5, -2.5, -3, -2, -0.5, 0, -0.3, -0.5, -0.5, -0.4, -0.3, -0.2, -0.1, 0, 0, 0, 0, 0, 0, 0],
    [1, 1.5, 1, 0, -0.5, -0.3, 0, 0.2, 0, -0.2, -0.3, -0.5, -0.4, -0.2, -0.1, 0, 0, 0, 0, 0, 0],
]
psidot_C_dashed = [
    [0, 1, 2, 3, 3.5, 4, 4.5, 5.5, 3, 1, 0, -0.5, -2.5, -1, 0, 0, 0, 0, 0, 0, 0],
    [0, -1, -0.5, 0.5, 0, -0.5, -0.3, 0, -0.3, -0.5, -0.3, -0.2, 0, -0.3, -0.5, -0.5, -1.5, -0.3, -0.2, 0, 0],
]

# ---------------- panel assembly (row-major) ----------------
PANEL_DATA = [
    (T_POS, [x_A_solid, x_A_dashed, x_B_solid, x_B_dashed, x_C_solid, x_C_dashed]),
    (T_MID, [phi_A_solid, phi_A_dashed, phi_B_solid, phi_B_dashed, phi_C_solid, phi_C_dashed]),
    (T_MID, [xdot_A_solid, xdot_A_dashed, xdot_B_solid, xdot_B_dashed, xdot_C_solid, xdot_C_dashed]),
    (T_RATE, [phidot_A_solid, phidot_A_dashed, phidot_B_solid, phidot_B_dashed, phidot_C_solid, phidot_C_dashed]),
    (T_POS, [y_A_solid, y_A_dashed, y_B_solid, y_B_dashed, y_C_solid, y_C_dashed]),
    (T_MID, [theta_A_solid, theta_A_dashed, theta_B_solid, theta_B_dashed, theta_C_solid, theta_C_dashed]),
    (T_MID, [ydot_A_solid, ydot_A_dashed, ydot_B_solid, ydot_B_dashed, ydot_C_solid, ydot_C_dashed]),
    (T_RATE, [thetadot_A_solid, thetadot_A_dashed, thetadot_B_solid, thetadot_B_dashed, thetadot_C_solid, thetadot_C_dashed]),
    (T_POS, [z_A_solid, z_A_dashed, z_B_solid, z_B_dashed, z_C_solid, z_C_dashed]),
    (T_MID, [psi_A_solid, psi_A_dashed, psi_B_solid, psi_B_dashed, psi_C_solid, psi_C_dashed]),
    (T_MID, [zdot_A_solid, zdot_A_dashed, zdot_B_solid, zdot_B_dashed, zdot_C_solid, zdot_C_dashed]),
    (T_RATE, [psidot_A_solid, psidot_A_dashed, psidot_B_solid, psidot_B_dashed, psidot_C_solid, psidot_C_dashed]),
]

# ---------------- styling ----------------
W, H = 1378, 539
FONT = "Liberation Serif"
COLORS = ["#636efa", "#23895c", "#fa9a5f"]
FRAME = "#555555"
GRID = "#b4b4b4"
TXT = "#222222"

COL_PX = [(81, 327), (421, 667), (761, 1007.5), (1101, 1347.5)]
ROW_PX = [(39, 164.3), (190, 315.7), (341, 467.7)]

AXES = [  # (range, major dtick, minor dtick, tickformat, title)
    ([-3.0, 3.47], 2.5, 0.5, ".1f", "<i>x</i> (m)"),
    ([-34.7, 39.9], 25, 5, "", "<i>ϕ</i>°"),
    ([-3.0, 3.0], 2.5, 0.5, ".1f", "<i>ẋ</i>(<i>m</i>/s)"),
    ([-12.0, 10.0], 10, 2, "", "<i>ϕ̇</i>(<i>rad</i>/s)"),
    ([-3.0, 2.96], 2.5, 0.5, ".1f", "<i>y</i> (m)"),
    ([-59.7, 54.5], 50, 10, "", "<i>θ</i>°"),
    ([-3.0, 2.98], 2.5, 0.5, ".1f", "<i>ẏ</i>(<i>m</i>/s)"),
    ([-15.0, 5.06], 10, 2, "", "<i>θ̇</i>(<i>rad</i>/s)"),
    ([-0.21, 3.01], 2, 0.5, "", "<i>z</i> (m)"),
    ([-183, 181], 100, 20, "", "<i>ψ</i>°"),
    ([-2.22, 1.01], 2, 0.5, "", "<i>ż</i>(<i>m</i>/s)"),
    ([-5.57, 6.0], 5, 1, "", "<i>ψ̇</i>(<i>rad</i>/s)"),
]
YTITLE_X = [18, 370, 702, 1045]

fig = make_subplots(rows=3, cols=4)
LEGENDS = ["legend", "legend2", "legend3"]

for p, (tgrid, groups) in enumerate(PANEL_DATA):
    r, c = p // 4 + 1, p % 4 + 1
    for g, curves in enumerate(groups):
        region = g // 2
        dashed = g % 2 == 1
        shape = "linear" if c == 4 else "spline"
        for k, vals in enumerate(curves):
            show = (p == 0 and not dashed and k == 0)
            line = dict(color=COLORS[region], width=1.3,
                        dash="5px,3px" if dashed else "solid", shape=shape)
            if shape == "spline":
                line["smoothing"] = 0.9
            fig.add_trace(
                go.Scatter(
                    x=tgrid, y=vals, mode="lines",
                    name=REGIONS[region],
                    legend=LEGENDS[region],
                    showlegend=show,
                    line=line,
                    hoverinfo="skip",
                ),
                row=r, col=c,
            )
    fig.add_trace(
        go.Scatter(
            x=REF_T, y=[REF_LEVELS[p], REF_LEVELS[p]], mode="lines",
            name=REF_NAME, legend="legend4", showlegend=(p == 0),
            line=dict(color="black", width=2.2, dash="7px,3.5px"),
            hoverinfo="skip",
        ),
        row=r, col=c,
    )

layout = {}
for p in range(12):
    r, c = p // 4, p % 4
    idx = "" if p == 0 else str(p + 1)
    x0, x1 = COL_PX[c]
    y0, y1 = ROW_PX[r]
    rng, dt, mdt, fmt, _ = AXES[p]
    layout["xaxis" + idx] = dict(
        domain=[x0 / W, x1 / W], range=[0, 8], tick0=0, dtick=5, automargin=False,
        showticklabels=(r == 2), ticks="inside", ticklen=8, tickwidth=1.5, tickcolor=FRAME,
        minor=dict(ticks="inside", ticklen=4, tickwidth=1, tickcolor=FRAME, dtick=1, tick0=0, showgrid=False),
        showline=True, linecolor=FRAME, linewidth=2, mirror=True,
        showgrid=True, gridcolor=GRID, griddash="3px,2px", gridwidth=0.8, zeroline=False,
        tickfont=dict(family=FONT, size=24, color=TXT), ticklabelstandoff=4,
    )
    layout["yaxis" + idx] = dict(
        domain=[1 - y1 / H, 1 - y0 / H], range=rng, tick0=0, dtick=dt, tickformat=fmt,
        automargin=False,
        ticks="inside", ticklen=8, tickwidth=1.5, tickcolor=FRAME,
        minor=dict(ticks="inside", ticklen=4, tickwidth=1, tickcolor=FRAME, dtick=mdt, tick0=0, showgrid=False),
        showline=True, linecolor=FRAME, linewidth=2, mirror=True,
        showgrid=True, gridcolor=GRID, griddash="3px,2px", gridwidth=0.8, zeroline=False,
        tickfont=dict(family=FONT, size=24, color=TXT), ticklabelstandoff=3,
    )

annotations = []
for p in range(12):
    r, c = p // 4, p % 4
    y0, y1 = ROW_PX[r]
    fam = "DejaVu Serif" if c == 3 else FONT
    annotations.append(dict(
        text=AXES[p][4], textangle=-90, xref="paper", yref="paper",
        x=YTITLE_X[c] / W, y=1 - (y0 + y1) / 2 / H, xanchor="center", yanchor="middle",
        showarrow=False, font=dict(family=fam, size=24 if c != 3 else 21, color=TXT),
    ))
for c in range(4):
    x0, x1 = COL_PX[c]
    annotations.append(dict(
        text="<i>t</i> (s)", xref="paper", yref="paper",
        x=(x0 + x1) / 2 / W, y=1 - 526.7 / H, xanchor="center", yanchor="middle",
        showarrow=False, font=dict(family=FONT, size=24, color=TXT),
    ))

legend_style = dict(orientation="h", yanchor="middle", xanchor="left", y=1 - 17 / H,
                    xref="container", yref="container",
                    bgcolor="rgba(0,0,0,0)", itemwidth=50,
                    font=dict(family=FONT, size=20, color=TXT))
LEG_X = [454, 701, 953, 1212]

fig.update_layout(
    template="none",
    width=W, height=H, margin=dict(l=0, r=0, t=0, b=0, autoexpand=False),
    paper_bgcolor="white", plot_bgcolor="white",
    font=dict(family=FONT, size=20, color=TXT),
    annotations=annotations,
    legend=dict(x=LEG_X[0] / W, **legend_style),
    legend2=dict(x=LEG_X[1] / W, **legend_style),
    legend3=dict(x=LEG_X[2] / W, **legend_style),
    legend4=dict(x=LEG_X[3] / W, **legend_style),
    **layout,
)

fig.write_html("out.html")
